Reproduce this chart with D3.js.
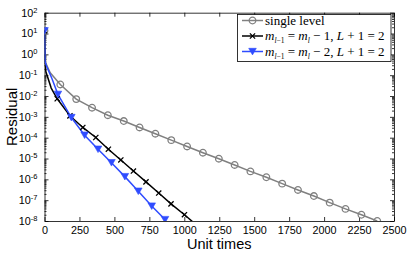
<!DOCTYPE html>
<html>
<head>
<meta charset="utf-8">
<script src="https://cdn.jsdelivr.net/npm/d3@7"></script>
<style>
body { margin: 0; background: #fff; }
.axis text { font-family: "Liberation Sans", Arial, sans-serif; font-size: 10.8px; fill: #000; }
.axis path, .axis line { stroke: #000; stroke-width: 0.8; }
.legend text { font-family: "Liberation Serif", "Times New Roman", serif; font-size: 13px; fill: #000; }
.label { font-family: "Liberation Sans", Arial, sans-serif; font-size: 14.5px; fill: #000; }
</style>
</head>
<body>
<div id="chart"></div>
<script>
// single level (grey circles) - marker points
const singleX = [0, 113, 227, 340, 453, 567, 680, 793, 907, 1020, 1133, 1247, 1360, 1473, 1587, 1700, 1813, 1927, 2040, 2153, 2267, 2380];
const singleY = [13.5, 3.6e-2, 7.1e-3, 2.75e-3, 1.2e-3, 6.3e-4, 3.1e-4, 1.55e-4, 7.6e-5, 3.8e-5, 1.9e-5, 9.8e-6, 4.9e-6, 2.4e-6, 1.26e-6, 6.2e-7, 3.1e-7, 1.58e-7, 7.6e-8, 3.8e-8, 2.0e-8, 1.0e-8];
// unmarked points between the first two markers
const singleHeadX = [4, 41];
const singleHeadY = [0.45, 0.13];

// m_{l-1} = m_l - 1 (black crosses)
const minus1X = [0, 91, 182, 274, 367, 457, 546, 636, 726, 817, 905, 1001, 1092];
const minus1Y = [13.5, 7.4e-3, 1.12e-3, 3.1e-4, 1.02e-4, 2.8e-5, 8.5e-6, 2.5e-6, 7.6e-7, 2.2e-7, 6.6e-8, 2.0e-8, 6.0e-9];
const minus1HeadX = [4, 10, 48];
const minus1HeadY = [0.45, 0.145, 0.024];

// m_{l-1} = m_l - 2 (blue triangles)
const minus2X = [0, 96, 192, 287, 383, 479, 575, 671, 767, 862];
const minus2Y = [13.5, 1.2e-2, 9.3e-4, 1.32e-4, 2.8e-5, 6.3e-6, 1.35e-6, 2.7e-7, 5.2e-8, 1.17e-8];
const minus2HeadX = [4, 17, 53];
const minus2HeadY = [0.45, 0.25, 0.069];

const xTicks = [0, 250, 500, 750, 1000, 1250, 1500, 1750, 2000, 2250, 2500];
const yExps = [-8, -7, -6, -5, -4, -3, -2, -1, 0, 1, 2];

const W = 409, H = 254;
const pLeft = 44.5, pRight = 394, pTop = 12.7, pBottom = 221;

const svg = d3.select("#chart").append("svg")
    .attr("width", W)
    .attr("height", H);

const x = d3.scaleLinear().domain([0, 2500]).range([pLeft, pRight]);
const y = d3.scaleLog().domain([1e-8, 1e2]).range([pBottom, pTop]);

const yTicks = yExps.map(e => Math.pow(10, e));
const minorTicks = [];
for (let e = -8; e < 2; e++) {
    for (let m = 2; m <= 9; m++) minorTicks.push(m * Math.pow(10, e));
}

// minor ticks left / right
svg.append("g").attr("class", "axis")
    .attr("transform", `translate(${pLeft},0)`)
    .call(d3.axisLeft(y).tickValues(minorTicks).tickSize(-2).tickFormat(""))
    .select(".domain").remove();
svg.append("g").attr("class", "axis")
    .attr("transform", `translate(${pRight},0)`)
    .call(d3.axisRight(y).tickValues(minorTicks).tickSize(-2).tickFormat(""))
    .select(".domain").remove();

// major axes
svg.append("g").attr("class", "axis")
    .attr("transform", `translate(0,${pBottom})`)
    .call(d3.axisBottom(x).tickValues(xTicks).tickSize(-4).tickSizeOuter(0).tickPadding(5).tickFormat(d3.format("d")));
svg.append("g").attr("class", "axis")
    .attr("transform", `translate(0,${pTop})`)
    .call(d3.axisTop(x).tickValues(xTicks).tickSize(-4).tickSizeOuter(0).tickFormat(""));
svg.append("g").attr("class", "axis")
    .attr("transform", `translate(${pRight},0)`)
    .call(d3.axisRight(y).tickValues(yTicks).tickSize(-4).tickSizeOuter(0).tickFormat(""));

const yAxis = svg.append("g").attr("class", "axis")
    .attr("transform", `translate(${pLeft},0)`)
    .call(d3.axisLeft(y).tickValues(yTicks).tickSize(-4).tickSizeOuter(0).tickPadding(7).tickFormat(""));
yAxis.selectAll(".tick text").each(function(d, i) {
    const t = d3.select(this);
    t.text("10");
    t.append("tspan")
        .attr("dy", "-0.55em")
        .attr("font-size", "7.5px")
        .text(yExps[i]);
});

// axis labels
svg.append("text")
    .attr("class", "label")
    .attr("x", (pLeft + pRight) / 2)
    .attr("y", 249)
    .attr("text-anchor", "middle")
    .text("Unit times");
svg.append("text")
    .attr("class", "label")
    .attr("transform", `translate(17,${(pTop + pBottom) / 2}) rotate(-90)`)
    .attr("text-anchor", "middle")
    .style("font-size", "15px")
    .text("Residual");

// clip
svg.append("clipPath").attr("id", "clip")
    .append("rect")
    .attr("x", pLeft).attr("y", pTop)
    .attr("width", pRight - pLeft).attr("height", pBottom - pTop);

function buildLine(mx, my, hx, hy) {
    const pts = [{ x: mx[0], y: my[0] }];
    hx.forEach((v, i) => pts.push({ x: v, y: hy[i] }));
    for (let i = 1; i < mx.length; i++) pts.push({ x: mx[i], y: my[i] });
    return pts;
}

const line = d3.line().x(d => x(d.x)).y(d => y(d.y));
const plot = svg.append("g").attr("clip-path", "url(#clip)");

const grey = "#808080", black = "#000000", blue = "#2f4cff";
const crossPath = "M-2.6,-2.6L2.6,2.6M-2.6,2.6L2.6,-2.6";
const triPath = "M-3.8,-3.2L3.8,-3.2L0,3.4Z";

const series = [
    { mx: singleX, my: singleY, hx: singleHeadX, hy: singleHeadY, color: grey, marker: "circle" },
    { mx: minus1X, my: minus1Y, hx: minus1HeadX, hy: minus1HeadY, color: black, marker: "cross" },
    { mx: minus2X, my: minus2Y, hx: minus2HeadX, hy: minus2HeadY, color: blue, marker: "tri" }
];

function drawMarker(g, type, color) {
    if (type === "circle") {
        g.append("circle").attr("r", 3.3)
            .attr("fill", "none").attr("stroke", color).attr("stroke-width", 1.3);
    } else if (type === "cross") {
        g.append("path").attr("d", crossPath)
            .attr("fill", "none").attr("stroke", color).attr("stroke-width", 1.3);
    } else {
        g.append("path").attr("d", triPath)
            .attr("fill", color).attr("stroke", color).attr("stroke-width", 0.6);
    }
}

series.forEach(s => {
    plot.append("path")
        .datum(buildLine(s.mx, s.my, s.hx, s.hy))
        .attr("fill", "none")
        .attr("stroke", s.color)
        .attr("stroke-width", 1.5)
        .attr("d", line);
});
series.forEach(s => {
    s.mx.forEach((v, i) => {
        const g = plot.append("g").attr("transform", `translate(${x(v)},${y(s.my[i])})`);
        drawMarker(g, s.marker, s.color);
    });
});

// legend
const lg = svg.append("g").attr("class", "legend");
lg.append("rect")
    .attr("x", 237.5).attr("y", 14.5)
    .attr("width", 153.5).attr("height", 47)
    .attr("fill", "#fff").attr("stroke", "#000").attr("stroke-width", 0.8);

const rowsY = [20.5, 36, 51.5];
series.forEach((s, i) => {
    lg.append("line")
        .attr("x1", 242).attr("x2", 263)
        .attr("y1", rowsY[i]).attr("y2", rowsY[i])
        .attr("stroke", s.color).attr("stroke-width", 1.5);
    const g = lg.append("g").attr("transform", `translate(252.5,${rowsY[i]})`);
    drawMarker(g, s.marker, s.color);
});

lg.append("text").attr("x", 265).attr("y", rowsY[0] + 4).text("single level");

function mathRow(yy, k) {
    const t = lg.append("text").attr("x", 265).attr("y", yy + 4);
    t.append("tspan").style("font-style", "italic").text("m");
    t.append("tspan").attr("dy", 3).style("font-size", "7.5px").style("font-style", "italic").text("l");
    t.append("tspan").style("font-size", "7.5px").text("\u22121");
    t.append("tspan").attr("dy", -3).text(" = ");
    t.append("tspan").style("font-style", "italic").text("m");
    t.append("tspan").attr("dy", 3).style("font-size", "7.5px").style("font-style", "italic").text("l");
    t.append("tspan").attr("dy", -3).text(" \u2212 " + k + ", ");
    t.append("tspan").style("font-style", "italic").text("L");
    t.append("tspan").text(" + 1 = 2");
}
mathRow(rowsY[1], 1);
mathRow(rowsY[2], 2);
</script>
</body>
</html>
